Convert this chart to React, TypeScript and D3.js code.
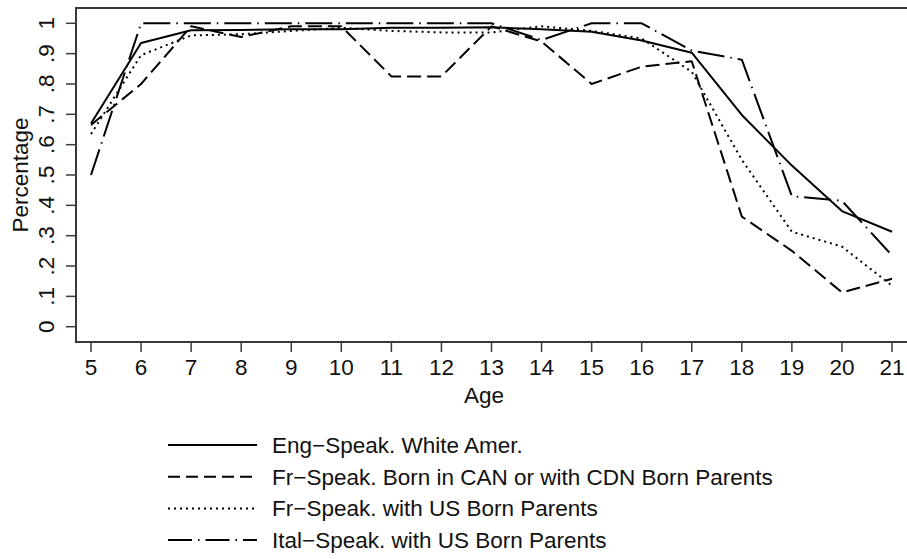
import React from 'react';
import * as d3 from 'd3';

// Ages on the x axis
const ages = [5, 6, 7, 8, 9, 10, 11, 12, 13, 14, 15, 16, 17, 18, 19, 20, 21];

// Share at each age, one array per group
const engWhite = [0.67, 0.935, 0.977, 0.978, 0.98, 0.98, 0.985, 0.985, 0.987, 0.98, 0.972, 0.943, 0.903, 0.698, 0.531, 0.381, 0.313];
const frCanada = [0.665, 0.8, 0.99, 0.955, 0.99, 0.99, 0.825, 0.825, 0.99, 0.94, 0.8, 0.857, 0.875, 0.363, 0.25, 0.113, 0.158];
const frUsBorn = [0.635, 0.895, 0.96, 0.964, 0.975, 0.985, 0.975, 0.97, 0.97, 0.99, 0.975, 0.95, 0.84, 0.55, 0.313, 0.264, 0.135];
const italUsBorn = [0.5, 1, 1, 1, 1, 1, 1, 1, 1, 0.945, 1, 1, 0.91, 0.88, 0.43, 0.415, 0.235];

const yTicks = [0, 0.1, 0.2, 0.3, 0.4, 0.5, 0.6, 0.7, 0.8, 0.9, 1];
const yTickLabels = ['0', '.1', '.2', '.3', '.4', '.5', '.6', '.7', '.8', '.9', '1'];

const seriesNames = [
  'Eng\u2212Speak. White Amer.',
  'Fr\u2212Speak. Born in CAN or with CDN Born Parents',
  'Fr\u2212Speak. with US Born Parents',
  'Ital\u2212Speak. with US Born Parents',
];
const seriesValues = [engWhite, frCanada, frUsBorn, italUsBorn];
const dashes = ['none', '14,6', '2,4', '27,6,1.5,6'];
const legendDashes = ['none', '12,6', '2,4', '24,6,1.5,6'];

const W = 907;
const H = 559;
const FONT = '"Liberation Sans", Arial, Helvetica, sans-serif';
const FS = 22.5;

export default function App() {
  const frame = { left: 76, top: 8, right: 908, bottom: 342 };

  const x = d3.scaleLinear().domain([5, 21]).range([91, 892]);
  const y = d3.scaleLinear().domain([0, 1]).range([326.7, 23.3]);

  const line = d3.line<number>()
    .x((_, i) => x(ages[i]))
    .y(d => y(d));

  return (
    <svg width={W} height={H} style={{ position: 'absolute', left: 0, top: 0, background: '#fff' }}>
      <rect x={0} y={0} width={W} height={H} fill="#fff" />

      {/* plot frame */}
      <rect
        x={frame.left}
        y={frame.top}
        width={frame.right - frame.left}
        height={frame.bottom - frame.top}
        fill="none"
        stroke="#3a3a3a"
        strokeWidth={2}
      />

      {/* series */}
      {seriesValues.map((vals, i) => (
        <path
          key={i}
          d={line(vals) || ''}
          fill="none"
          stroke="#000"
          strokeWidth={2}
          strokeDasharray={dashes[i]}
          strokeLinejoin="round"
        />
      ))}

      {/* y axis */}
      {yTicks.map((t, i) => (
        <g key={t}>
          <line x1={frame.left - 10} x2={frame.left} y1={y(t)} y2={y(t)} stroke="#3a3a3a" strokeWidth={1.5} />
          <text
            transform={`translate(54,${y(t)}) rotate(-90)`}
            textAnchor="middle"
            fontFamily={FONT}
            fontSize={FS}
            fill="#111"
          >
            {yTickLabels[i]}
          </text>
        </g>
      ))}
      <text
        transform={`translate(28,175) rotate(-90)`}
        textAnchor="middle"
        fontFamily={FONT}
        fontSize={FS}
        fill="#111"
      >
        Percentage
      </text>

      {/* x axis */}
      {ages.map(a => (
        <g key={a}>
          <line x1={x(a)} x2={x(a)} y1={frame.bottom} y2={frame.bottom + 10} stroke="#3a3a3a" strokeWidth={1.5} />
          <text x={x(a)} y={375} textAnchor="middle" fontFamily={FONT} fontSize={FS} fill="#111">
            {a}
          </text>
        </g>
      ))}
      <text x={484} y={403} textAnchor="middle" fontFamily={FONT} fontSize={FS} fill="#111">
        Age
      </text>

      {/* legend */}
      {seriesNames.map((name, i) => {
        const cy = 445 + i * 31.7;
        return (
          <g key={name}>
            <line x1={168} x2={257} y1={cy} y2={cy} stroke="#000" strokeWidth={2} strokeDasharray={legendDashes[i]} />
            <text x={272} y={cy + 8} fontFamily={FONT} fontSize={FS} fill="#111">
              {name}
            </text>
          </g>
        );
      })}
    </svg>
  );
}
